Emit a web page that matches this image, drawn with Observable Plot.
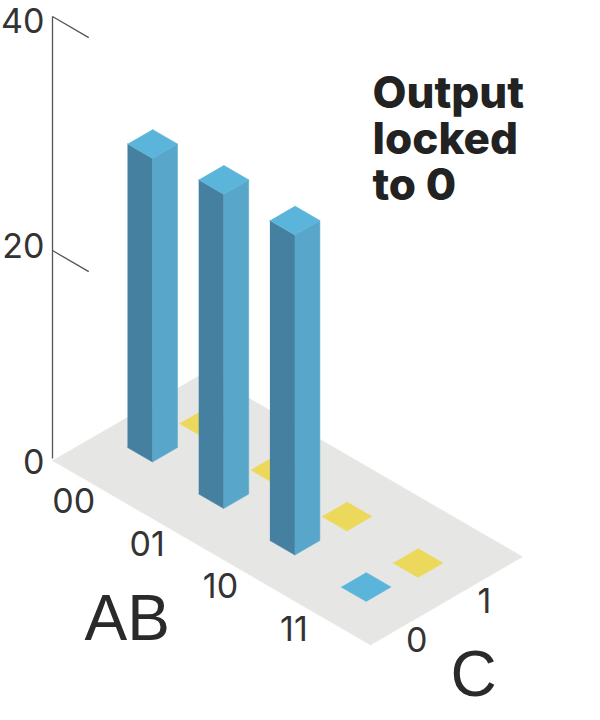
<!DOCTYPE html>
<html>
<head>
<meta charset="utf-8">
<style>html,body{margin:0;padding:0;background:#fff}svg{display:block}</style>
<script src="https://cdn.jsdelivr.net/npm/d3@7"></script>
<script src="https://cdn.jsdelivr.net/npm/@observablehq/plot@0.6"></script>
</head>
<body>
<div id="chart"></div>
<script>
// Data
const abLabels = ["00", "01", "10", "11"];
const cLabels = ["0", "1"];
const outputC0 = [28, 28.9, 29.4, 0];
const outputC1 = [0, 0, 0, 0];
const zTicks = [0, 20, 40];
const titleText = "Output\nlocked\nto 0";

// Isometric projection
const gridOrigin = [152, 447], abStep = [71.2, 46.5], cStep = [52, -24], foot = [12.5, 7.25];
const zPx = d3.scaleLinear().domain([0, 20, 40]).range([0, 210, 444]);
const zLabelPx = d3.scaleLinear().domain([0, 20, 40]).range([473, 257, 32]);
const project = (ab, c, du = 0, dv = 0, z = 0) => ({
  x: gridOrigin[0] + ab * abStep[0] + c * cStep[0] + (du + dv) * foot[0],
  y: gridOrigin[1] + ab * abStep[1] + c * cStep[1] + (du - dv) * foot[1] - zPx(z)
});

// Kinds of surface
const kinds = ["floor", "left", "right", "top", "zero", "locked"];
const kindColors = ["#e6e6e5", "#4580a1", "#58a7ca", "#5bb4da", "#5bb4da", "#ecd95c"];

// Polygons
const polys = [];
const poly = (id, kind, pts) => pts.forEach(p => polys.push({id, kind, ...p}));
const U = [-3.1, 22.34], V = [-4.9, 7.26];
poly("floor", "floor", [project(0,0,U[0],V[0]), project(0,0,U[1],V[0]), project(0,0,U[1],V[1]), project(0,0,U[0],V[1])]);

[[1, outputC1], [0, outputC0]].forEach(([c, vals]) => {
  vals.forEach((v, ab) => {
    const key = `${abLabels[ab]}-${c}`;
    const L = z => project(ab, c, -1, -1, z), F = z => project(ab, c, 1, -1, z),
          R = z => project(ab, c, 1, 1, z), B = z => project(ab, c, -1, 1, z);
    if (v > 0) {
      poly(key + "l", "left", [L(0), F(0), F(v), L(v)]);
      poly(key + "r", "right", [F(0), R(0), R(v), F(v)]);
      poly(key + "t", "top", [L(v), F(v), R(v), B(v)]);
    } else {
      poly(key, c === 1 ? "locked" : "zero", [L(0), F(0), R(0), B(0)]);
    }
  });
});

// Axis
const corner = z => project(0, 0, U[0], V[0], z);
const tickLen = 2.9;
const tickLinks = zTicks.filter(z => z > 0).map(z => {
  const a = corner(z), b = project(0, 0, U[0] + tickLen, V[0], z);
  return {x1: a.x, y1: a.y, x2: b.x, y2: b.y};
});
const axisTop = corner(40), axisBottom = corner(0);

// Label layouts
const abLabelRows = abLabels.map((t, i) => ({t, ...project(0, 0, 1.39 + i * 5.87, -7.69)}));
const cLabelRows = cLabels.map((t, i) => ({t, ...project(0, 0, 24.7, -3.57 + i * 5.43)}));
const zLabelRows = zTicks.map(z => ({t: String(z), x: corner(z).x - 8, y: zLabelPx(z)}));

const digitFont = {fontFamily: "Inter, 'Liberation Sans', sans-serif", fontWeight: 400, fontSize: 34, fill: "#333", stroke: "none"};
const bigFont = {fontFamily: "'Liberation Sans', sans-serif", fontSize: 64, fill: "#2a2a2a", stroke: "none"};

const chart = Plot.plot({
  width: 600, height: 720,
  marginTop: 0, marginRight: 0, marginBottom: 0, marginLeft: 0,
  x: {domain: [0, 600], range: [0, 600], axis: null},
  y: {domain: [0, 720], range: [0, 720], axis: null},
  color: {domain: kinds, range: kindColors},
  style: {background: "#fff", overflow: "visible"},
  marks: [
    Plot.line(polys, {x: "x", y: "y", z: "id", fill: "kind", stroke: "kind", strokeWidth: 0.5}),
    Plot.link([{x1: axisTop.x, y1: axisTop.y, x2: axisBottom.x, y2: axisBottom.y - 2}, ...tickLinks],
      {x1: "x1", y1: "y1", x2: "x2", y2: "y2", stroke: "#555", strokeWidth: 1.3}),
    Plot.text(zLabelRows, {x: "x", y: "y", text: "t", textAnchor: "end", lineAnchor: "bottom", ...digitFont}),
    Plot.text(abLabelRows, {x: "x", y: "y", text: "t", textAnchor: "middle", lineAnchor: "bottom", ...digitFont}),
    Plot.text(cLabelRows, {x: "x", y: "y", text: "t", textAnchor: "middle", lineAnchor: "bottom", ...digitFont}),
    Plot.text(["AB"], {frameAnchor: "top-left", dx: 84, dy: 594, lineAnchor: "top", textAnchor: "start", ...bigFont}),
    Plot.text(["C"], {frameAnchor: "top-left", dx: 450, dy: 650, lineAnchor: "top", textAnchor: "start", ...bigFont}),
    Plot.text([titleText], {frameAnchor: "top-left", dx: 372, dy: 75, lineAnchor: "top", textAnchor: "start",
      fontFamily: "Inter, sans-serif", fontWeight: 800, fontSize: 44, lineHeight: 1.045, fill: "#222", stroke: "none"})
  ]
});
document.getElementById("chart").append(chart);
</script>
</body>
</html>
